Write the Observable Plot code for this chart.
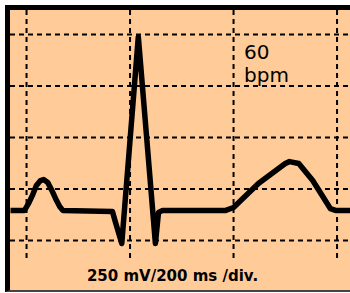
<!DOCTYPE html>
<html>
<head>
<meta charset="utf-8">
<script src="https://cdn.jsdelivr.net/npm/d3@7"></script>
<script src="https://cdn.jsdelivr.net/npm/@observablehq/plot@0.6"></script>
<style>
  html, body { margin: 0; padding: 0; background: #ffffff; }
  #chart svg { display: block; }
</style>
</head>
<body>
<div id="chart"></div>
<script>
// ECG trace, time in ms, voltage in mV
const timeMs = [-31, -4, 4, 12, 19, 27, 33, 41, 48, 56, 64, 70, 166, 172, 184, 216, 249, 255, 263, 385, 400, 448, 500, 508, 526, 553, 587, 597, 626];
const voltMv = [146, 146, 180, 223, 267, 291, 296, 282, 248, 204, 165, 146, 141, 87, -15, 990, -15, 136, 146, 146, 160, 277, 374, 383, 374, 291, 155, 146, 146];

// grid divisions: 200 ms/div, 250 mV/div
const timeTicks = [0, 200, 400, 600];
const voltTicks = [0, 250, 500, 750, 1000];

const rateLabel = "60\nbpm";
const scaleLabel = "250 mV/200 ms /div.";

const trace = timeMs.map((t, i) => ({t, v: voltMv[i]}));

const svg = Plot.plot({
  width: 340,
  height: 280,
  marginLeft: 0,
  marginRight: 0,
  marginTop: 0,
  marginBottom: 0,
  style: {background: "#ffcc99", fontFamily: "DejaVu Sans, Verdana, sans-serif", overflow: "visible"},
  x: {domain: [-31, 626], axis: null},
  y: {domain: [-243, 1117], axis: null},
  marks: [
    Plot.ruleY(voltTicks, {stroke: "black", strokeWidth: 2, strokeDasharray: "5,4"}),
    Plot.ruleX(timeTicks, {y1: 1117, y2: -87, stroke: "black", strokeWidth: 2, strokeDasharray: "5,4"}),
    Plot.line(trace, {x: "t", y: "v", stroke: "black", strokeWidth: 5.5, strokeLinejoin: "round", strokeLinecap: "butt"}),
    Plot.text([rateLabel], {x: 400, y: 1000, dx: 10.5, dy: 8, text: d => d, textAnchor: "start", lineAnchor: "top", lineHeight: 1.15, fontSize: 20, fill: "black"}),
    Plot.text([scaleLabel], {frameAnchor: "bottom", dx: -8, dy: -10, text: d => d, lineAnchor: "bottom", fontSize: 15, fontWeight: "bold", fill: "black"})
  ]
});
svg.style.borderTop = "5px solid black";
svg.style.borderLeft = "5px solid black";
svg.style.borderBottom = "2px solid #444";
svg.style.marginTop = "5px";
svg.style.marginLeft = "5px";
document.getElementById("chart").appendChild(svg);
</script>
</body>
</html>
